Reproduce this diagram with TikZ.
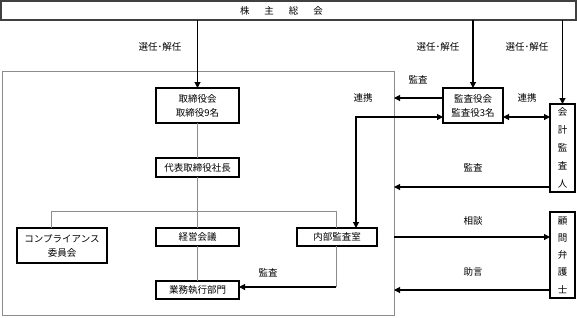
\documentclass[tikz,border=0pt]{standalone}
\usepackage{fontspec}
\setmainfont{Noto Sans CJK JP}
\usetikzlibrary{arrows.meta}
\begin{document}
\begin{tikzpicture}[x=1pt,y=-1pt,
  box/.style={draw=black, line width=1.1pt, inner sep=0pt, outer sep=0pt, anchor=north west,
    font=\fontsize{9.5}{14}\selectfont, align=center},
  tree/.style={draw=black!45, line width=0.9pt},
  arr/.style={line width=1.1pt, -{Triangle[length=6pt,width=6pt]}},
  darr/.style={line width=1.1pt, {Triangle[length=6pt,width=6pt]}-{Triangle[length=6pt,width=6pt]}},
  lbl/.style={font=\fontsize{9.5}{11}\selectfont, inner sep=0pt}]
\useasboundingbox (0,0) rectangle (577,317);
% frames
\node[draw=black!75, line width=1.1pt, inner sep=0pt, outer sep=0pt, anchor=north west,
  minimum width=575pt, minimum height=19pt, font=\fontsize{9.5}{11}\selectfont] (kabu) at (1,1)
  {\hspace*{-14pt}株\hspace{15pt}主\hspace{15pt}総\hspace{15pt}会};
\node[draw=black!45, line width=1pt, inner sep=0pt, outer sep=0pt, anchor=north west,
  minimum width=392pt, minimum height=244pt] (big) at (2,71) {};
% boxes
\node[box, minimum width=83pt, minimum height=35pt] (tori) at (156,88) {取締役会\\取締役9名};
\node[box, minimum width=83pt, minimum height=19pt] (daihyo) at (156,158) {代表取締役社長};
\node[box, minimum width=83pt, minimum height=18pt] (keiei) at (156,228) {経営会議};
\node[box, minimum width=83pt, minimum height=18pt] (gyomu) at (156,281) {業務執行部門};
\node[box, minimum width=90pt, minimum height=35pt] (comp) at (17,228) {コンプライアンス\\委員会};
\node[box, minimum width=80pt, minimum height=18pt] (naibu) at (297,228) {内部監査室};
\node[box, minimum width=60pt, minimum height=35pt] (kansa) at (443,88) {監査役会\\監査役3名};
\node[box, minimum width=25pt, minimum height=88pt, font=\fontsize{9.5}{18}\selectfont] (kaikei) at (550,104) {会\\計\\監\\査\\人};
\node[box, minimum width=25pt, minimum height=86pt, font=\fontsize{9.5}{17.3}\selectfont] (komon) at (550,212) {顧\\問\\弁\\護\\士};
% helper coordinates
\coordinate (y98) at (0,98);
\coordinate (y187) at (0,187);
\coordinate (y237) at (0,237);
\coordinate (y290) at (0,290);
\coordinate (y287) at (0,287);
\coordinate (c356) at (356,117);
\coordinate (tl) at (51,211);
\coordinate (tr) at (336,211);
% tree
\draw[tree] (tori.south) -- (daihyo.north);
\draw[tree] (daihyo.south) -- (keiei.north);
\draw[tree] (keiei.south) -- (gyomu.north);
\draw[tree] (tl |- comp.north) -- (tl) -- (tr) -- (tr |- naibu.north);
\draw[tree] (tr |- naibu.south) -- (tr |- y287);
% connectors
\draw[arr] (kabu.south -| tori.north) -- (tori.north);
\draw[arr] (kabu.south -| kansa.north) -- (kansa.north);
\draw[arr] (kabu.south -| kaikei.north) -- (kaikei.north);
\draw[arr] (kansa.west |- y98) -- (big.east |- y98);
\draw[darr] (kansa.west |- c356) -- (c356) -- (c356 |- naibu.north);
\draw[darr] (kansa.east |- c356) -- (kaikei.west |- c356);
\draw[arr] (kaikei.west |- y187) -- (big.east |- y187);
\draw[arr] (big.east |- y237) -- (komon.west |- y237);
\draw[arr] (komon.west |- y290) -- (big.east |- y290);
\draw[arr] (tr |- y287) -- (gyomu.east |- y287);
% labels
\node[lbl] (l1) at (160,47) {選任･解任};
\node[lbl] (l2) at (438,47) {選任･解任};
\node[lbl] (l3) at (527,47) {選任･解任};
\node[lbl] (l4) at (418,80) {監査};
\node[lbl] (l5) at (363,98) {連携};
\node[lbl] (l6) at (527,98) {連携};
\node[lbl] (l7) at (473,168) {監査};
\node[lbl] (l8) at (473,221) {相談};
\node[lbl] (l9) at (473,272) {助言};
\node[lbl] (l10) at (268,273) {監査};
\end{tikzpicture}
\end{document}
